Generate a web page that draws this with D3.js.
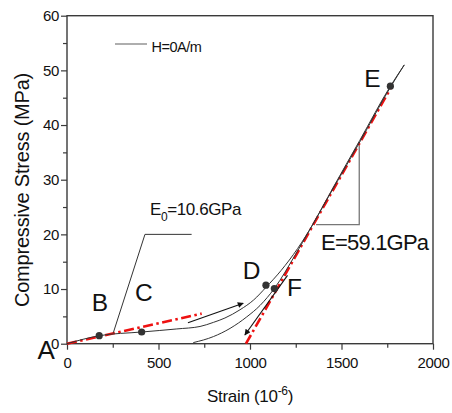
<!DOCTYPE html>
<html>
<head>
<meta charset="utf-8">
<script src="https://cdn.jsdelivr.net/npm/d3@7"></script>
<style>
  html, body { margin: 0; padding: 0; background: #fff; }
  svg { display: block; font-family: "Liberation Sans", Arial, sans-serif; }
</style>
</head>
<body>
<svg id="chart" width="452" height="413"></svg>
<script>
// Stress–strain loop of the sample at H = 0 A/m (strain in 1e-6, stress in MPa)
const xTicks = [0, 500, 1000, 1500, 2000];
const xMinorTicks = [250, 750, 1250, 1750];
const yTicks = [0, 10, 20, 30, 40, 50, 60];
const yMinorTicks = [5, 15, 25, 35, 45, 55];

// loading branch A → B → C → D → E
const loadStrain = [0, 176, 408, 600, 727, 800, 863, 945, 1020, 1087, 1170, 1260, 1343, 1450, 1600, 1767, 1843];
const loadStress = [0, 1.46, 2.14, 2.7, 3.15, 3.9, 4.7, 6.2, 8.0, 10.3, 13.4, 17.4, 21.8, 28.3, 37.2, 47.1, 51.0];

// unloading branch E → F → residual strain
const unloadStrain = [690, 800, 891, 982, 1055, 1133, 1250, 1400, 1600, 1767, 1843];
const unloadStress = [0.2, 1.3, 2.8, 4.9, 7.0, 10.1, 16.4, 25.2, 36.9, 46.9, 51.0];

// marked states
const pointNames = ["B", "C", "D", "F", "E"];
const pointStrain = [176, 408, 1087, 1133, 1767];
const pointStress = [1.46, 2.14, 10.7, 10.1, 47.1];

// modulus fits (dash-dot lines)
const fitE0Strain = [0, 736];
const fitE0Stress = [0, 5.5];
const modulusE = 59.1;            // GPa
const fitEStrain = [978, 1770];   // stress = E * (strain - 978e-6)

// loading / unloading direction arrows
const arrowUpStrain = [661, 963];
const arrowUpStress = [3.84, 7.4];
const arrowDownStrain = [1205, 972];
const arrowDownStress = [12.5, 1.6];

// annotation leaders
const leaderE0Strain = [253, 426, 681];
const leaderE0Stress = [2.0, 20.0, 20.0];
const slopeStrain = [1361, 1597, 1597];
const slopeStress = [21.8, 21.8, 36.2];

const legendText = "H=0A/m";
const labelE0 = ["E", "0", "=10.6GPa"];
const labelE = "E=59.1GPa";

const svg = d3.select("#chart");
const x = d3.scaleLinear().domain([0, 2000]).range([67, 433]);
const y = d3.scaleLinear().domain([0, 60]).range([343.7, 15.7]);
const zip = (a, b) => a.map((v, i) => [v, b[i]]);

const defs = svg.append("defs");
defs.append("marker")
  .attr("id", "head")
  .attr("viewBox", "0 0 10 10")
  .attr("refX", 9).attr("refY", 5)
  .attr("markerWidth", 9).attr("markerHeight", 6)
  .attr("markerUnits", "userSpaceOnUse")
  .attr("orient", "auto")
  .append("path")
  .attr("d", "M0,0 L10,5 L0,10 Z")
  .attr("fill", "#111");

// axes
const axisColor = "#3a3a3a";
const gx = svg.append("g").attr("transform", `translate(0,${y(0)})`);
gx.call(d3.axisBottom(x).tickValues(xTicks).tickSize(6).tickPadding(8).tickFormat(d3.format("d")));
const gxm = svg.append("g").attr("transform", `translate(0,${y(0)})`);
gxm.call(d3.axisBottom(x).tickValues(xMinorTicks).tickSize(4).tickFormat(""));
const gy = svg.append("g").attr("transform", `translate(${x(0)},0)`);
gy.call(d3.axisLeft(y).tickValues(yTicks).tickSize(6).tickPadding(2).tickFormat(d3.format("d")));
const gym = svg.append("g").attr("transform", `translate(${x(0)},0)`);
gym.call(d3.axisLeft(y).tickValues(yMinorTicks).tickSize(4).tickFormat(""));

svg.selectAll(".domain").remove();
svg.selectAll(".tick line").attr("stroke", axisColor).attr("stroke-width", 1.2);
svg.selectAll(".tick text")
  .attr("font-family", "'Liberation Sans', Arial, sans-serif")
  .attr("font-size", 15)
  .attr("letter-spacing", -0.4)
  .attr("fill", "#111");

svg.append("rect")
  .attr("x", x(0)).attr("y", y(60))
  .attr("width", x(2000) - x(0)).attr("height", y(0) - y(60))
  .attr("fill", "none").attr("stroke", axisColor).attr("stroke-width", 1.4);

// axis titles
svg.append("text")
  .attr("x", (x(0) + x(2000)) / 2).attr("y", 402)
  .attr("text-anchor", "middle").attr("font-size", 17).attr("fill", "#111")
  .attr("letter-spacing", -0.3)
  .call(t => {
    t.append("tspan").text("Strain (10");
    t.append("tspan").attr("font-size", 12).attr("dy", -7).text("-6");
    t.append("tspan").attr("dy", 7).text(")");
  });
svg.append("text")
  .attr("transform", "translate(29,190) rotate(-90)")
  .attr("text-anchor", "middle").attr("font-size", 20).attr("fill", "#111")
  .attr("letter-spacing", -0.2)
  .text("Compressive Stress (MPa)");

const line = d3.line().x(d => x(d[0])).y(d => y(d[1]));
const smooth = d3.line().curve(d3.curveMonotoneX).x(d => x(d[0])).y(d => y(d[1]));

// modulus fit lines
const fitE = fitEStrain.map(s => [s, modulusE * 1e-3 * (s - fitEStrain[0])]);
[zip(fitE0Strain, fitE0Stress), fitE].forEach(pts => {
  svg.append("path").attr("d", line(pts))
    .attr("fill", "none").attr("stroke", "#ee1111").attr("stroke-width", 2.6)
    .attr("stroke-dasharray", "10,3.5,2.5,3.5");
});

// stress–strain branches
[zip(loadStrain, loadStress), zip(unloadStrain, unloadStress)].forEach(pts => {
  svg.append("path").attr("d", smooth(pts))
    .attr("fill", "none").attr("stroke", "#333").attr("stroke-width", 1);
});

// leaders
svg.append("path").attr("d", line(zip(leaderE0Strain, leaderE0Stress)))
  .attr("fill", "none").attr("stroke", "#333").attr("stroke-width", 1);
svg.append("path").attr("d", line(zip(slopeStrain, slopeStress)))
  .attr("fill", "none").attr("stroke", "#777").attr("stroke-width", 1.3);

// direction arrows
[zip(arrowUpStrain, arrowUpStress), zip(arrowDownStrain, arrowDownStress)].forEach(pts => {
  svg.append("path").attr("d", line(pts))
    .attr("fill", "none").attr("stroke", "#111").attr("stroke-width", 1.1)
    .attr("marker-end", "url(#head)");
});

// marked points
const points = pointNames.map((n, i) => ({ name: n, sx: pointStrain[i], sy: pointStress[i] }));
svg.selectAll("circle.pt").data(points).join("circle")
  .attr("class", "pt")
  .attr("cx", d => x(d.sx)).attr("cy", d => y(d.sy)).attr("r", 3.6)
  .attr("fill", "#333");

const labelOffset = { B: [-7.5, -24.7], C: [-6.7, -31], D: [-23.2, -6.5], F: [12.7, 7.5], E: [-26.1, 0.5] };
svg.selectAll("text.pt").data(points).join("text")
  .attr("class", "pt")
  .attr("x", d => x(d.sx) + labelOffset[d.name][0])
  .attr("y", d => y(d.sy) + labelOffset[d.name][1])
  .attr("font-size", 24.5).attr("fill", "#111")
  .text(d => d.name);

svg.append("text")
  .attr("x", x(0) - 29.5).attr("y", y(0) + 15.3)
  .attr("font-size", 26).attr("fill", "#111").text("A");

// modulus labels
svg.append("text")
  .attr("x", x(leaderE0Strain[1]) + 5).attr("y", y(leaderE0Stress[1]) - 19.4)
  .attr("font-size", 17).attr("fill", "#111").attr("letter-spacing", -0.4)
  .call(t => {
    t.append("tspan").text(labelE0[0]);
    t.append("tspan").attr("font-size", 12).attr("dy", 6).text(labelE0[1]);
    t.append("tspan").attr("dy", -6).text(labelE0[2]);
  });
svg.append("text")
  .attr("x", x(slopeStrain[0]) + 5).attr("y", y(slopeStress[0]) + 25)
  .attr("font-size", 22).attr("fill", "#111").attr("letter-spacing", -0.8)
  .text(labelE);

// legend
svg.append("line").attr("x1", 115).attr("x2", 147).attr("y1", 44).attr("y2", 44)
  .attr("stroke", "#777").attr("stroke-width", 1.2);
svg.append("text").attr("x", 151.5).attr("y", 51.7)
  .attr("font-size", 14.5).attr("fill", "#111").attr("letter-spacing", -0.5)
  .text(legendText);
</script>
</body>
</html>
